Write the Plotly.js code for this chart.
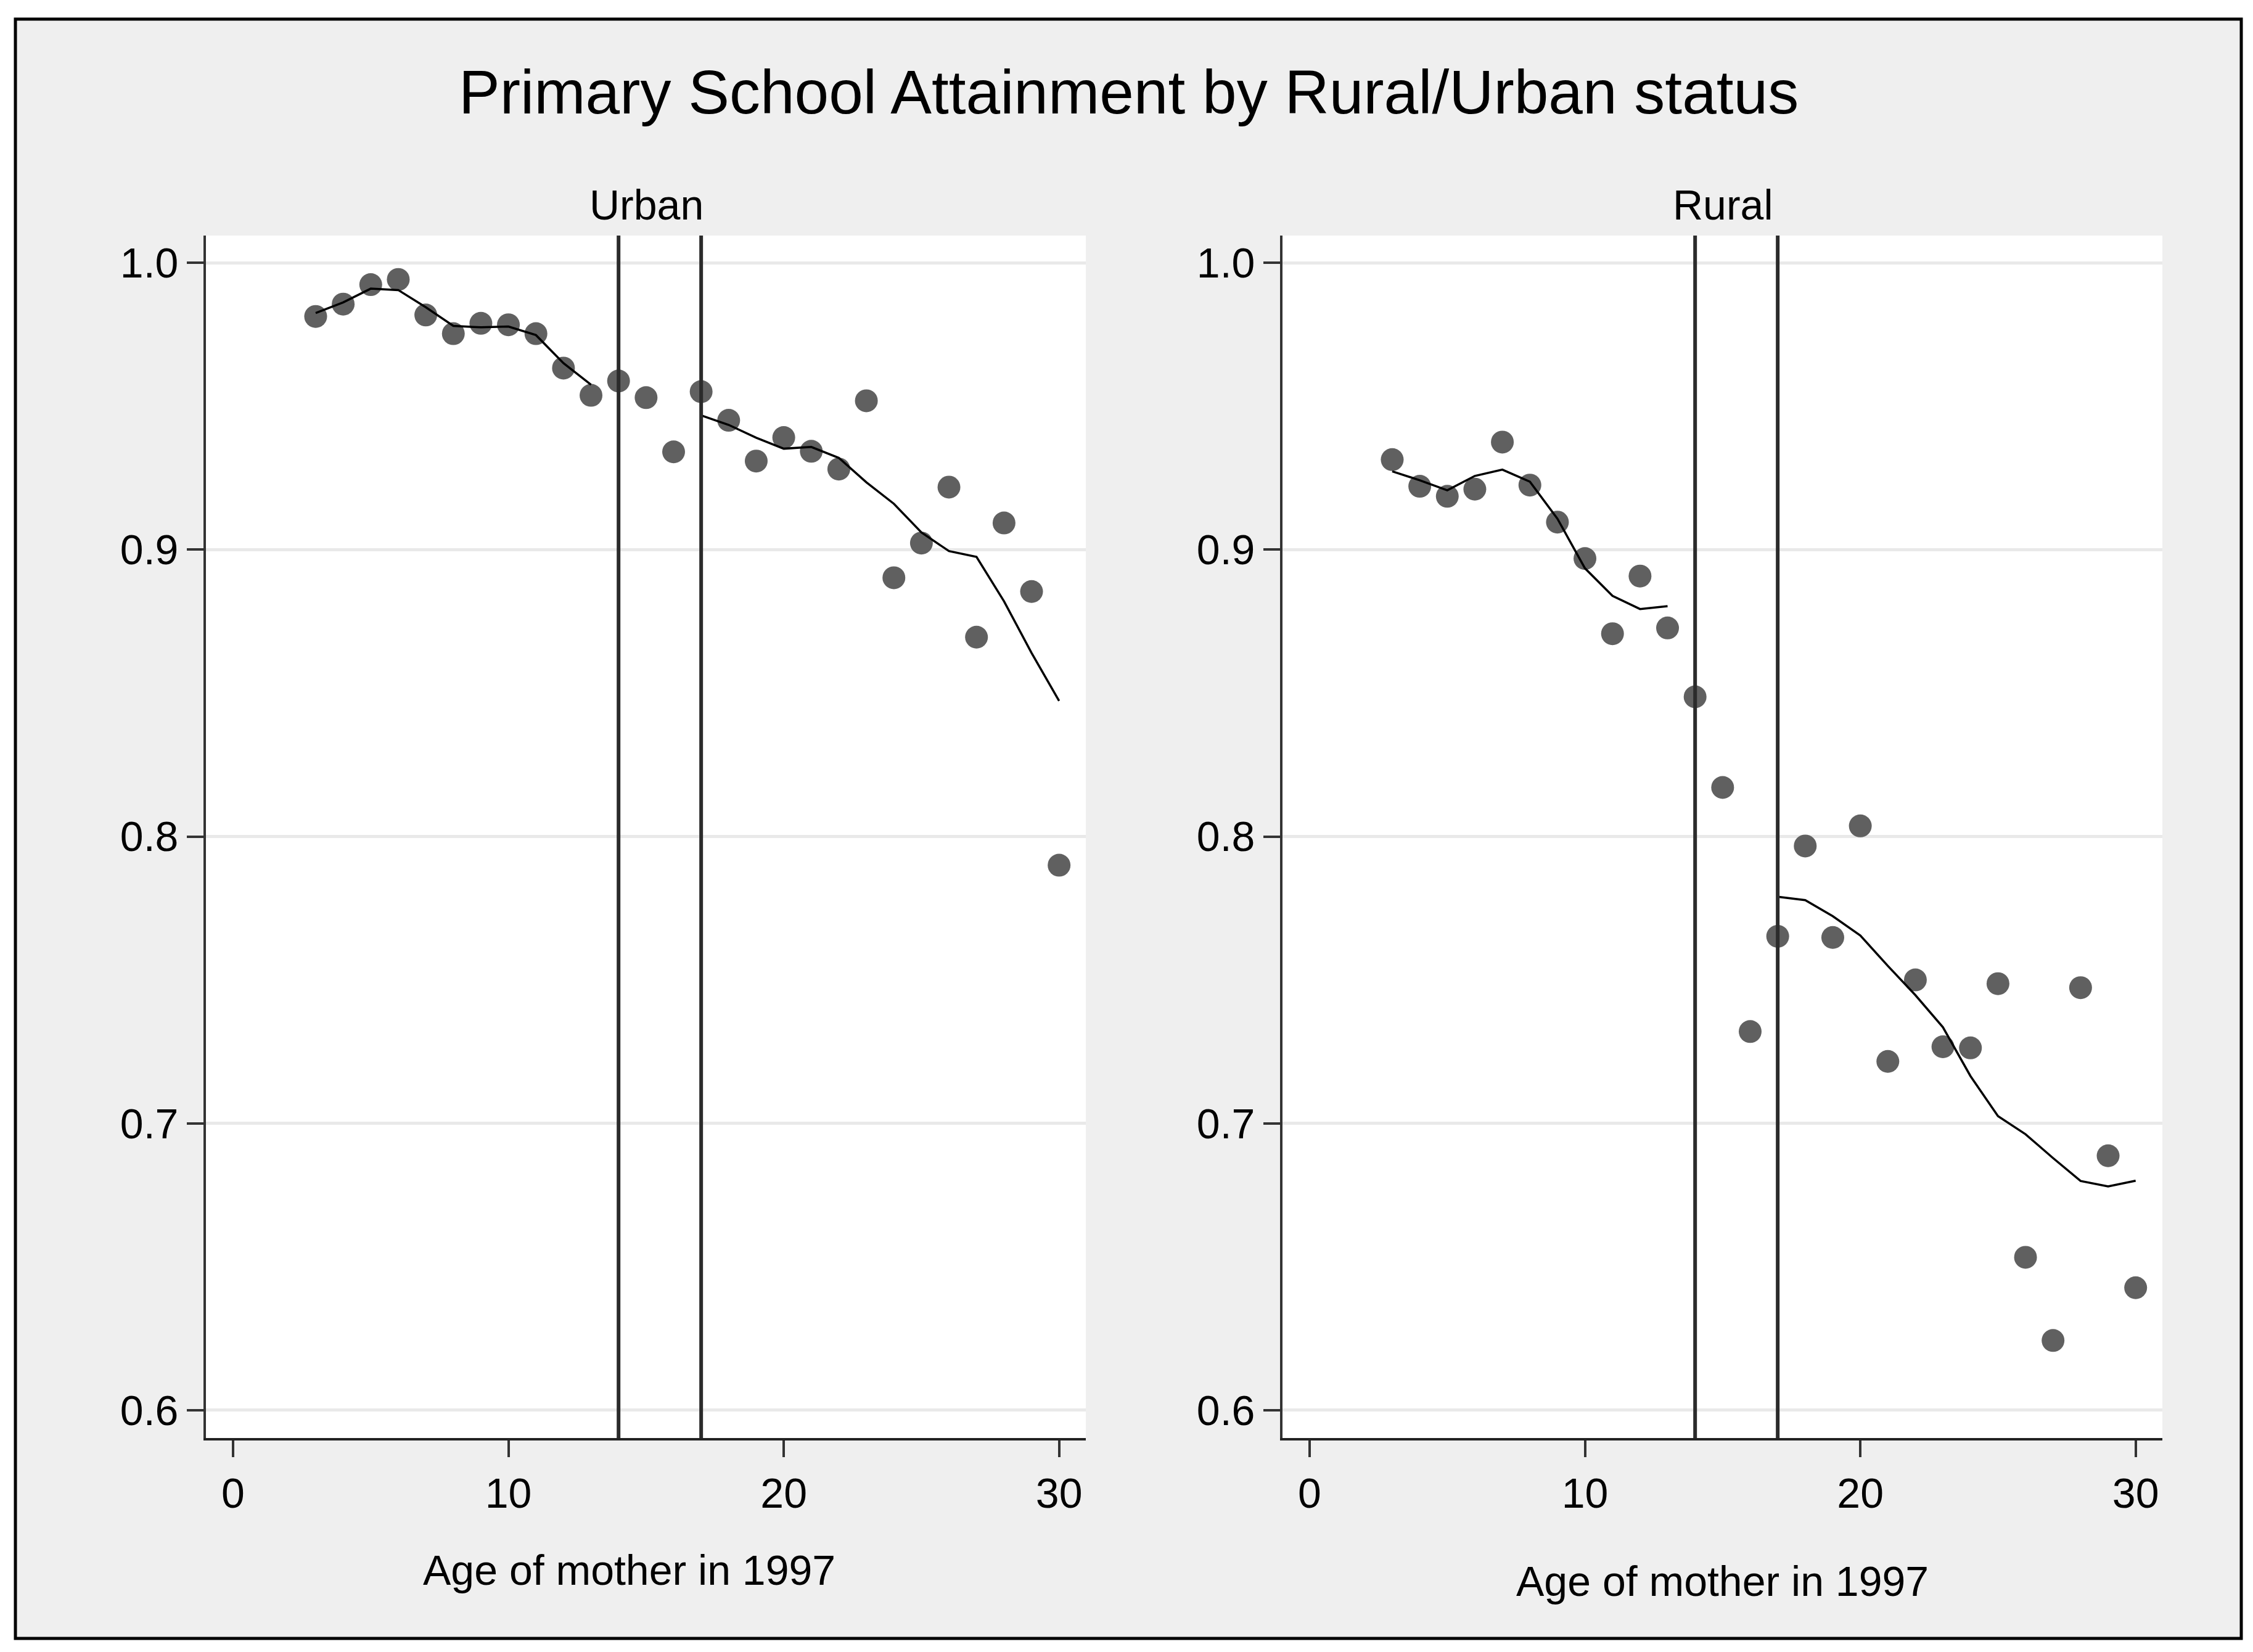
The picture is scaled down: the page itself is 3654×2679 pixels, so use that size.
<!DOCTYPE html>
<html>
<head>
<meta charset="utf-8">
<script src="https://cdn.plot.ly/plotly-3.0.1.min.js"></script>
<style>
  html, body { margin: 0; padding: 0; background: #ffffff; }
  #myDiv1 { width: 3654px; height: 2679px; }
</style>
</head>
<body>
<div id="myDiv1"></div>
<script>
// mother's age in 1997, one dot per age
var ages = [3, 4, 5, 6, 7, 8, 9, 10, 11, 12, 13, 14, 15, 16, 17, 18, 19, 20, 21, 22, 23, 24, 25, 26, 27, 28, 29, 30];

var urbanShare = [0.9813, 0.9856, 0.9924, 0.9942, 0.9818, 0.9753, 0.9789, 0.9784, 0.9753, 0.9633, 0.9538, 0.9588, 0.9530, 0.9341,
                  0.9551, 0.9451, 0.9309, 0.9391, 0.9343, 0.9281, 0.9519, 0.8902, 0.9023, 0.9218, 0.8695, 0.9093, 0.8854, 0.7900];
var ruralShare = [0.9314, 0.9221, 0.9186, 0.9211, 0.9375, 0.9225, 0.9096, 0.8969, 0.8707, 0.8908, 0.8727, 0.8487, 0.8171, 0.7320,
                  0.7652, 0.7967, 0.7648, 0.8037, 0.7216, 0.7500, 0.7267, 0.7263, 0.7487, 0.6533, 0.6243, 0.7473, 0.6887, 0.6427];

// smoothed lines, fitted separately before and after the cutoffs
var fitAgesBefore = [3, 4, 5, 6, 7, 8, 9, 10, 11, 12, 13];
var fitAgesAfter = [17, 18, 19, 20, 21, 22, 23, 24, 25, 26, 27, 28, 29, 30];
var urbanFitBefore = [0.9825, 0.9862, 0.9910, 0.9905, 0.9845, 0.9780, 0.9775, 0.9778, 0.9748, 0.9650, 0.9575];
var urbanFitAfter = [0.9468, 0.9435, 0.9390, 0.9352, 0.9358, 0.9320, 0.9235, 0.9160, 0.9060, 0.8995, 0.8975, 0.8820, 0.8640, 0.8473];
var ruralFitBefore = [0.9273, 0.9242, 0.9207, 0.9257, 0.9279, 0.9237, 0.9108, 0.8935, 0.8839, 0.8793, 0.8803];
var ruralFitAfter = [0.7790, 0.7778, 0.7722, 0.7655, 0.7549, 0.7447, 0.7335, 0.7165, 0.7025, 0.6962, 0.6879, 0.6799, 0.6780, 0.6800];

var cutoffAges = [14, 17];
var xTicks = [0, 10, 20, 30];
var yTicks = [0.6, 0.7, 0.8, 0.9, 1.0];

var panelNames = ['Urban', 'Rural'];
var xTitle = 'Age of mother in 1997';
var chartTitle = 'Primary School Attainment by Rural/Urban status';

var font = 'Liberation Sans, Arial, sans-serif';
var dotColor = '#606060';

function dots(y, xa, ya) {
  return {
    x: ages, y: y, xaxis: xa, yaxis: ya,
    type: 'scatter', mode: 'markers', hoverinfo: 'none',
    marker: {color: dotColor, size: 37, line: {width: 0}}
  };
}
function fit(x, y, xa, ya) {
  return {
    x: x, y: y, xaxis: xa, yaxis: ya,
    type: 'scatter', mode: 'lines', hoverinfo: 'none',
    line: {color: '#000000', width: 3.5}
  };
}

var data = [
  dots(urbanShare, 'x', 'y'),
  fit(fitAgesBefore, urbanFitBefore, 'x', 'y'),
  fit(fitAgesAfter, urbanFitAfter, 'x', 'y'),
  dots(ruralShare, 'x2', 'y2'),
  fit(fitAgesBefore, ruralFitBefore, 'x2', 'y2'),
  fit(fitAgesAfter, ruralFitAfter, 'x2', 'y2')
];

var W = 3654, H = 2679;
function px(v) { return v / W; }
function py(v) { return 1 - v / H; }

var xDomL = [px(334), px(1761)];
var xDomR = [px(2080), px(3507)];
var yDom = [py(2332), py(382)];

function xAxis(dom, anchor) {
  return {
    domain: dom, anchor: anchor, range: [-0.985, 30.97],
    tickvals: xTicks, ticks: 'outside', ticklen: 27, tickwidth: 4, tickcolor: '#333333',
    showline: true, linecolor: '#222222', linewidth: 4,
    showgrid: false, zeroline: false,
    tickfont: {family: font, size: 68, color: '#000000'}
  };
}
function yAxis(anchor) {
  return {
    domain: yDom, anchor: anchor, range: [0.5903, 1.0095],
    tickvals: yTicks, tickformat: '.1f', ticks: 'outside', ticklen: 27, tickwidth: 4, tickcolor: '#333333',
    showline: true, linecolor: '#333333', linewidth: 4,
    showgrid: true, gridcolor: '#e9e9e9', gridwidth: 5, zeroline: false,
    tickfont: {family: font, size: 68, color: '#000000'}
  };
}

var shapes = [
  // grey frame round the whole graph
  {type: 'rect', xref: 'paper', yref: 'paper', x0: px(25), x1: px(3635), y0: py(2657), y1: py(31),
   fillcolor: '#efefef', line: {color: '#000000', width: 5}, layer: 'below'},
  {type: 'rect', xref: 'paper', yref: 'paper', x0: xDomL[0], x1: xDomL[1], y0: yDom[0], y1: yDom[1],
   fillcolor: '#ffffff', line: {width: 0}, layer: 'below'},
  {type: 'rect', xref: 'paper', yref: 'paper', x0: xDomR[0], x1: xDomR[1], y0: yDom[0], y1: yDom[1],
   fillcolor: '#ffffff', line: {width: 0}, layer: 'below'}
];
['x', 'x2'].forEach(function (xa) {
  cutoffAges.forEach(function (a) {
    shapes.push({type: 'line', xref: xa, yref: (xa === 'x' ? 'y' : 'y2') + ' domain', x0: a, x1: a, y0: 0, y1: 1,
                 line: {color: '#2b2b2b', width: 6}, layer: 'above'});
  });
});

var annotations = [
  {text: chartTitle, xref: 'paper', yref: 'paper', x: px(1830), y: py(149), showarrow: false,
   xanchor: 'center', yanchor: 'middle', font: {family: font, size: 100, color: '#000000'}},
  {text: panelNames[0], xref: 'paper', yref: 'paper', x: px(1048), y: py(332), showarrow: false,
   xanchor: 'center', yanchor: 'middle', font: {family: font, size: 68, color: '#000000'}},
  {text: panelNames[1], xref: 'paper', yref: 'paper', x: px(2794), y: py(332), showarrow: false,
   xanchor: 'center', yanchor: 'middle', font: {family: font, size: 68, color: '#000000'}},
  {text: xTitle, xref: 'paper', yref: 'paper', x: px(1020), y: py(2546), showarrow: false,
   xanchor: 'center', yanchor: 'middle', font: {family: font, size: 68, color: '#000000'}},
  {text: xTitle, xref: 'paper', yref: 'paper', x: px(2793), y: py(2564), showarrow: false,
   xanchor: 'center', yanchor: 'middle', font: {family: font, size: 68, color: '#000000'}}
];

var layout = {
  width: W, height: H,
  margin: {t: 0, b: 0, l: 0, r: 0},
  paper_bgcolor: '#ffffff',
  plot_bgcolor: 'rgba(0,0,0,0)',
  showlegend: false,
  font: {family: font},
  xaxis: xAxis(xDomL, 'y'),
  yaxis: yAxis('x'),
  xaxis2: xAxis(xDomR, 'y2'),
  yaxis2: yAxis('x2'),
  shapes: shapes,
  annotations: annotations
};

var config = {responsive: false, displayModeBar: false, staticPlot: true};

Plotly.newPlot('myDiv1', data, layout, config);
</script>
</body>
</html>
